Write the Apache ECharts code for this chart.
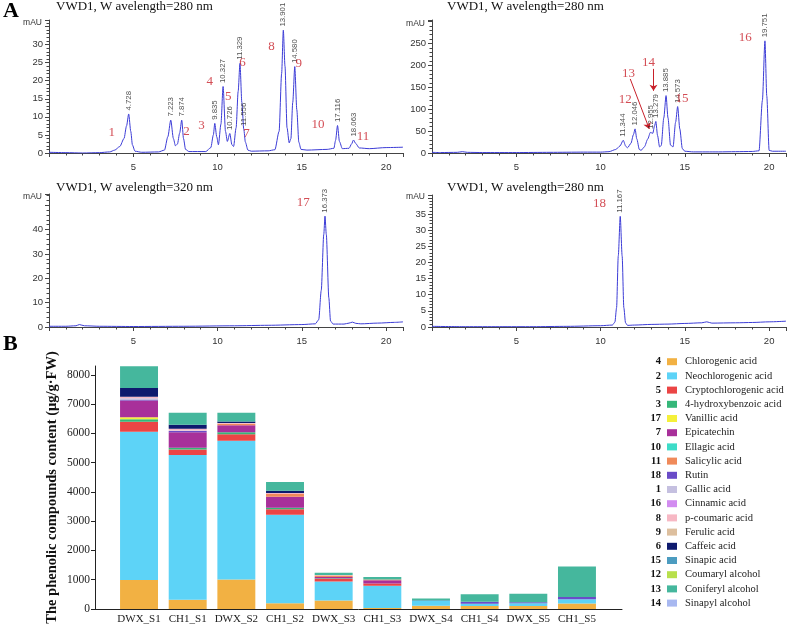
<!DOCTYPE html>
<html>
<head>
<meta charset="utf-8">
<title>Phenolic compounds</title>
<script src="https://cdn.jsdelivr.net/npm/echarts@6/dist/echarts.min.js"></script>
<style>
  html, body { margin: 0; padding: 0; background: #fff; }
  #chart { width: 788px; height: 629px; }
</style>
</head>
<body>
<div id="chart"></div>
<script>
// ---- chromatograms: [time (min), mAU] ----
const trace1 = [[0,0.2],[1,0.1],[2,0.0],[3,0.1],[3.6,0.3],[3.9,0.8],[4.2,1.8],[4.45,4],[4.6,7.5],[4.728,10.8],[4.85,6],[4.95,2.2],[5.1,0.5],[5.5,0.2],[6.5,0.3],[6.85,0.8],[7.05,4.5],[7.223,9.1],[7.38,4],[7.5,2],[7.62,2.5],[7.75,5.5],[7.874,9.1],[7.98,4],[8.1,1],[8.3,0.4],[9.3,0.4],[9.6,1.5],[9.75,5],[9.835,8.2],[9.95,4.5],[10.05,2.3],[10.2,8],[10.327,18.4],[10.47,6],[10.58,3.2],[10.726,5.4],[10.85,2.3],[10.95,1.8],[11.1,7],[11.22,17],[11.329,24.8],[11.44,14],[11.556,6.5],[11.65,3],[11.8,0.8],[12,0.5],[13,0.6],[13.4,0.9],[13.65,6],[13.8,22],[13.901,34],[14.0,24],[14.12,7],[14.25,2.8],[14.35,4],[14.46,14],[14.58,23.9],[14.7,12],[14.82,3],[14.95,1],[15.3,0.8],[16.5,1.0],[16.9,1.3],[17.0,3.5],[17.116,7.6],[17.23,3.2],[17.4,1.2],[17.8,1.3],[17.95,2.5],[18.063,3.6],[18.2,2.6],[18.4,1.4],[19,1.2],[20,1.5],[21,1.6]];
const trace2 = [[0,1.5],[0.5,1],[1.5,1.5],[1.8,3],[2.1,1.5],[3,1],[5,1],[7,1.5],[9,2],[10,2],[10.5,3],[10.9,8],[11.15,16],[11.344,29],[11.5,15],[11.6,12],[11.8,22],[11.95,42],[12.046,55],[12.15,32],[12.3,8],[12.4,6],[12.6,14],[12.8,32],[12.955,47],[13.1,45],[13.2,62],[13.279,72],[13.38,40],[13.5,14],[13.6,17],[13.75,80],[13.885,131],[14.0,80],[14.15,18],[14.3,14],[14.45,70],[14.573,106],[14.7,55],[14.85,10],[15,4],[15.5,2.5],[17,2.5],[18,3],[19,3.5],[19.4,5],[19.6,120],[19.751,256],[19.86,130],[20,6],[20.2,4],[21,4]];
const trace3 = [[0,0.3],[1,0.3],[1.6,0.5],[1.8,1.0],[2.1,0.5],[3,0.3],[5,0.2],[8,0.3],[11,0.5],[13,0.7],[15,1],[15.8,1.3],[16.0,3],[16.15,15],[16.3,38],[16.373,45.5],[16.45,38],[16.6,12],[16.7,2.5],[16.85,1.2],[17.5,1.2],[17.8,1.6],[18.0,2.0],[18.2,1.5],[18.5,1.3],[19.5,1.6],[20.5,1.9],[21,2.1]];
const trace4 = [[0,0.2],[2,0.1],[4,0.1],[6,0.1],[8,0.2],[10,0.4],[10.7,0.6],[10.85,1.5],[10.95,6],[11.05,22],[11.167,34.3],[11.28,22],[11.38,6],[11.48,1.3],[11.6,0.5],[12,0.6],[13,0.8],[14,0.9],[15,1.1],[16,1.3],[16.3,1.6],[16.6,1.2],[18,1.3],[19,1.4],[20,1.6],[21,1.8]];

// retention time labels (apex positions)
const peaks1 = [[4.728,10.8],[7.223,9.1],[7.874,9.1],[9.835,8.2],[10.327,18.4],[10.726,5.4],[11.329,24.8],[11.556,6.5],[13.901,34],[14.58,23.9],[17.116,7.6],[18.063,3.6]];
const peaks2 = [[11.344,29],[12.046,55],[12.955,47],[13.279,72],[13.885,131],[14.573,106],[19.751,256]];
const peaks3 = [[16.373,45.5]];
const peaks4 = [[11.167,34.3]];

// red compound numbers
const numPos1 = [[3.72,5.7],[8.16,6.0],[9.05,7.6],[9.54,19.8],[10.63,15.5],[11.48,25.1],[11.72,5.3],[13.2,29.4],[14.82,24.8],[15.96,7.8],[18.63,4.6]];
const numText1 = ['1','2','3','4','5','6','7','8','9','10','11'];
const numPos2 = [[11.46,123],[11.66,182],[12.85,207],[14.83,125],[18.59,264]];
const numText2 = ['12','13','14','15','16'];
const numPos3 = [[15.08,51]];
const numText3 = ['17'];
const numPos4 = [[9.93,38.2]];
const numText4 = ['18'];
const arrows2 = [[[11.76,169],[12.89,55]],[[13.14,192],[13.14,142]]];

// ---- stacked bars (ug/g FW) ----
const samples = ['DWX_S1','CH1_S1','DWX_S2','CH1_S2','DWX_S3','CH1_S3','DWX_S4','CH1_S4','DWX_S5','CH1_S5'];
const compounds = ['Chlorogenic acid','Neochlorogenic acid','Cryptochlorogenic acid','4-hydroxybenzoic acid','Vanillic acid','Epicatechin','Ellagic acid','Salicylic acid','Rutin','Gallic acid','Cinnamic acid','p-coumaric acid','Ferulic acid','Caffeic acid','Sinapic acid','Coumaryl alcohol','Coniferyl alcohol','Sinapyl alcohol'];
const compoundNums = ['4','2','5','3','17','7','10','11','18','1','16','8','9','6','15','12','13','14'];
const compoundColors = ['#f2b143','#5dd3f7','#eb4545','#35b779','#f5f03a','#a8309a','#3ddcc8','#f08a5a','#6a4cc8','#c5c0e0','#d28cf0','#f7b8c4','#ddbf9e','#0e1a6e','#4c9cc0','#b8e04c','#45b79d','#a8b8f0'];

const chlorogenic      = [990, 320, 1010, 195, 290, 30, 110, 100, 100, 190];
const neochlorogenic   = [5060, 4940, 4740, 3020, 650, 760, 160, 80, 100, 140];
const cryptochlorogenic= [350, 190, 220, 190, 90, 80, 0, 0, 0, 0];
const hydroxybenzoic   = [80, 60, 70, 55, 20, 0, 0, 0, 0, 0];
const vanillic         = [70, 0, 0, 0, 0, 0, 0, 0, 0, 0];
const epicatechin      = [570, 530, 240, 375, 40, 110, 0, 0, 0, 0];
const ellagic          = [0, 0, 0, 0, 0, 0, 0, 0, 0, 0];
const salicylic        = [0, 0, 45, 90, 50, 30, 0, 0, 0, 0];
const rutin            = [20, 40, 0, 0, 0, 0, 0, 70, 30, 80];
const gallic           = [60, 20, 0, 0, 0, 0, 0, 0, 0, 0];
const cinnamic         = [0, 0, 0, 0, 0, 0, 0, 0, 0, 0];
const pCoumaric        = [50, 55, 25, 40, 20, 0, 0, 0, 0, 0];
const ferulic          = [0, 0, 0, 0, 0, 0, 0, 0, 0, 0];
const caffeic          = [300, 140, 55, 70, 0, 0, 0, 0, 0, 0];
const sinapic          = [0, 0, 0, 0, 0, 0, 30, 0, 0, 0];
const coumarylAlcohol  = [0, 0, 0, 0, 0, 0, 0, 0, 0, 0];
const coniferylAlcohol = [740, 410, 300, 300, 80, 80, 60, 250, 290, 1040];
const sinapylAlcohol   = [0, 0, 0, 0, 0, 0, 0, 0, 0, 0];
const barValues = [chlorogenic, neochlorogenic, cryptochlorogenic, hydroxybenzoic, vanillic, epicatechin, ellagic, salicylic, rutin, gallic, cinnamic, pCoumaric, ferulic, caffeic, sinapic, coumarylAlcohol, coniferylAlcohol, sinapylAlcohol];
const yTicks = [0, 1000, 2000, 3000, 4000, 5000, 6000, 7000, 8000];

const SERIF = 'Liberation Serif';
const SANS = 'Liberation Sans';
const AXIS = '#444';
const TRACE = '#3c3cd6';
const RED = '#c8202a';

const chart = echarts.init(document.getElementById('chart'));

// one chromatogram panel = one grid
const chromGrids = [
  { left: 49, top: 20, width: 354, height: 133 },
  { left: 432, top: 20, width: 354, height: 133 },
  { left: 49, top: 194, width: 354, height: 133 },
  { left: 432, top: 195, width: 354, height: 132 }
];
const chromY = [
  { max: 36.8, interval: 5, labelTop: 35, nameGap: -3 },
  { max: 303.6, interval: 50, labelTop: 300, nameGap: -4 },
  { max: 54.6, interval: 10, labelTop: 50, nameGap: -3 },
  { max: 40.9, interval: 5, labelTop: 40, nameGap: -2 }
];

const xAxes = chromGrids.map((g, i) => ({
  gridIndex: i, type: 'value', min: 0, max: 21, interval: 5,
  axisLine: { onZero: false, lineStyle: { color: AXIS } },
  axisTick: { length: 4, lineStyle: { color: AXIS } },
  minorTick: { show: true, splitNumber: 5, length: 2.5, lineStyle: { color: AXIS } },
  axisLabel: { showMinLabel: false, showMaxLabel: false, fontSize: 9.5, color: '#333', margin: 9, fontFamily: SANS },
  splitLine: { show: false }
}));
const yAxes = chromY.map((a, i) => ({
  gridIndex: i, type: 'value', min: 0, max: a.max, interval: a.interval,
  name: 'mAU', nameLocation: 'end', nameGap: a.nameGap,
  nameTextStyle: { fontSize: 8.5, color: '#333', align: 'right', verticalAlign: 'middle', padding: [0, 7, 0, 0], fontFamily: SANS },
  axisLine: { show: true, lineStyle: { color: AXIS } },
  axisTick: { length: 4, lineStyle: { color: AXIS } },
  minorTick: { show: true, splitNumber: 5, length: 2.5, lineStyle: { color: AXIS } },
  axisLabel: {
    fontSize: 9.5, color: '#333', margin: 6, fontFamily: SANS,
    formatter: v => (v % a.interval === 0 && v < a.labelTop) ? String(v) : ''
  },
  splitLine: { show: false }
}));

// bar chart: frame grid (axis lines) + inner grid (bars)
xAxes.push({
  gridIndex: 4, type: 'value', min: 0, max: 1,
  axisLine: { lineStyle: { color: '#222' } }, axisTick: { show: false },
  axisLabel: { show: false }, splitLine: { show: false }
});
yAxes.push({
  gridIndex: 4, type: 'value', min: 0, max: 8300, interval: 1000,
  name: 'The phenolic compounds content (μg/g·FW)', nameLocation: 'middle', nameGap: 35, nameMoveOverlap: false,
  nameTextStyle: { fontFamily: SERIF, fontWeight: 'bold', fontSize: 14.5, color: '#111' },
  axisLine: { show: true, lineStyle: { color: '#222' } },
  axisTick: { show: true, length: 4, customValues: yTicks, lineStyle: { color: '#222' } },
  axisLabel: { customValues: yTicks, fontFamily: SERIF, fontSize: 11.5, color: '#222', margin: 5, formatter: v => String(v) },
  splitLine: { show: false }
});
xAxes.push({
  gridIndex: 5, type: 'category', data: samples,
  axisLine: { show: false }, axisTick: { show: false },
  axisLabel: { interval: 0, fontFamily: SERIF, fontSize: 11, color: '#222', margin: 5 }
});
yAxes.push({ gridIndex: 5, type: 'value', min: 0, max: 8300, show: false });

const series = [];
const traces = [trace1, trace2, trace3, trace4];
const peakSets = [peaks1, peaks2, peaks3, peaks4];
const numPosSets = [numPos1, numPos2, numPos3, numPos4];
const numTextSets = [numText1, numText2, numText3, numText4];

traces.forEach((t, i) => {
  series.push({
    type: 'line', xAxisIndex: i, yAxisIndex: i, data: t,
    showSymbol: false, smooth: 0.25, smoothMonotone: 'x', silent: true,
    lineStyle: { color: TRACE, width: 1 }
  });
  series.push({
    type: 'scatter', xAxisIndex: i, yAxisIndex: i, data: peakSets[i],
    symbolSize: 1, itemStyle: { color: 'transparent' }, silent: true, z: 5,
    label: {
      show: true, position: 'top', rotate: 90, align: 'left', verticalAlign: 'middle', distance: 3,
      fontFamily: SANS, fontSize: 7.8, color: '#222',
      formatter: p => p.value[0].toFixed(3)
    }
  });
  const num = {
    type: 'scatter', xAxisIndex: i, yAxisIndex: i, data: numPosSets[i],
    symbolSize: 1, itemStyle: { color: 'transparent' }, silent: true, z: 6,
    label: {
      show: true, position: 'inside', fontFamily: SERIF, fontSize: 13, color: RED,
      formatter: p => numTextSets[i][p.dataIndex]
    }
  };
  if (i === 1) {
    num.markLine = {
      silent: true, symbol: ['none', 'arrow'], symbolSize: 6,
      lineStyle: { color: RED, width: 1, type: 'solid' }, label: { show: false },
      data: arrows2.map(a => [{ coord: a[0] }, { coord: a[1] }])
    };
  }
  series.push(num);
});

compounds.forEach((name, k) => {
  series.push({
    name: name, type: 'bar', stack: 'total', xAxisIndex: 5, yAxisIndex: 5,
    barWidth: '78%', data: barValues[k], itemStyle: { color: compoundColors[k] }
  });
});

const titleFont = { fontFamily: SERIF, fontWeight: 'normal', fontSize: 13, color: '#111' };

chart.setOption({
  animation: false,
  title: [
    { text: 'A', left: 3, top: 0, padding: 0, textStyle: { fontFamily: SERIF, fontWeight: 'bold', fontSize: 22, color: '#000' } },
    { text: 'B', left: 3, top: 333, padding: 0, textStyle: { fontFamily: SERIF, fontWeight: 'bold', fontSize: 22, color: '#000' } },
    { text: 'VWD1, W avelength=280 nm', left: 56, top: 0, padding: 0, textStyle: titleFont },
    { text: 'VWD1, W avelength=280 nm', left: 447, top: 0, padding: 0, textStyle: titleFont },
    { text: 'VWD1, W avelength=320 nm', left: 56, top: 181, padding: 0, textStyle: titleFont },
    { text: 'VWD1, W avelength=280 nm', left: 447, top: 181, padding: 0, textStyle: titleFont }
  ],
  legend: [
    {
      data: compounds, orient: 'vertical', left: 667, top: 354.7, padding: 0,
      itemWidth: 10, itemHeight: 7, itemGap: 0.2, icon: 'rect',
      textStyle: { fontFamily: SERIF, fontSize: 10.5, color: '#222', lineHeight: 14, padding: [0, 0, 0, 3] }
    },
    {
      data: compounds, orient: 'vertical', right: 122, top: 354.7, padding: 0, align: 'right',
      itemWidth: 0, itemHeight: 0, itemGap: 0.2, icon: 'rect',
      formatter: name => compoundNums[compounds.indexOf(name)],
      textStyle: { fontFamily: SERIF, fontSize: 10.5, fontWeight: 'bold', color: '#111', lineHeight: 14 }
    }
  ],
  grid: chromGrids.concat([
    { left: 95, top: 366, width: 527, height: 243 },
    { left: 114.7, top: 366, width: 486.6, height: 243 }
  ]),
  xAxis: xAxes,
  yAxis: yAxes,
  series: series
});

window.addEventListener('resize', () => chart.resize());
</script>
</body>
</html>
